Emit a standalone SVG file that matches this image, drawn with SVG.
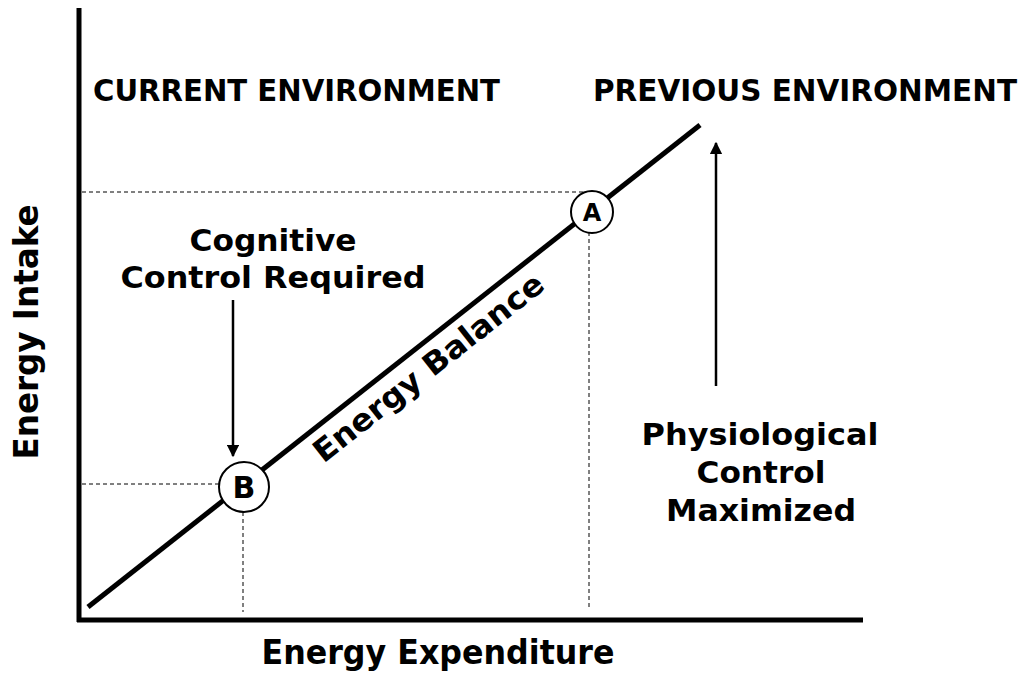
<svg xmlns="http://www.w3.org/2000/svg" width="1029" height="675" viewBox="0 0 1029 675">
<defs>
<style>
.t{font-family:"DejaVu Sans",Verdana,sans-serif;font-weight:bold;fill:#000}
.dash{stroke:#000;stroke-width:1;stroke-dasharray:4,3;fill:none}
.ax{stroke:#000;stroke-width:5;fill:none}
.node{fill:#fff;stroke:#000;stroke-width:2}
</style>
<marker id="ah" viewBox="0 0 10 10" refX="9" refY="5" markerWidth="5" markerHeight="5" orient="auto" markerUnits="strokeWidth">
<path d="M0,0 L10,5 L0,10 z" fill="#000"/>
</marker>
</defs>
<rect width="1029" height="675" fill="#fff"/>
<g id="axes">
<line class="ax" x1="79" y1="8" x2="79" y2="622"/>
<line class="ax" x1="77" y1="620" x2="863" y2="620"/>
</g>
<g id="connectors">
<line class="dash" x1="82" y1="192" x2="588" y2="192"/>
<line class="dash" x1="589" y1="232" x2="589" y2="608"/>
<line class="dash" x1="82" y1="484" x2="220" y2="484"/>
<line class="dash" x1="243" y1="512" x2="243" y2="612"/>
<line stroke="#000" stroke-width="5" x1="88" y1="607" x2="700" y2="125"/>
<line stroke="#000" stroke-width="2.5" x1="233" y1="300" x2="233" y2="456" marker-end="url(#ah)"/>
<line stroke="#000" stroke-width="2.5" x1="716" y1="386" x2="716" y2="143" marker-end="url(#ah)"/>
</g>
<g id="nodeA">
<circle class="node" cx="592" cy="212" r="21"/>
<text class="t" x="592" y="221" font-size="24" text-anchor="middle">A</text>
</g>
<g id="nodeB">
<circle class="node" cx="244" cy="487" r="25"/>
<text class="t" x="244" y="498" font-size="30" text-anchor="middle">B</text>
</g>
<g id="labels">
<text class="t" x="93" y="101" font-size="30" textLength="407" lengthAdjust="spacingAndGlyphs">CURRENT ENVIRONMENT</text>
<text class="t" x="593" y="101" font-size="30" textLength="424" lengthAdjust="spacingAndGlyphs">PREVIOUS ENVIRONMENT</text>
<text class="t" x="273" y="251" font-size="31" text-anchor="middle" textLength="167" lengthAdjust="spacingAndGlyphs">Cognitive</text>
<text class="t" x="273" y="288" font-size="31" text-anchor="middle" textLength="305" lengthAdjust="spacingAndGlyphs">Control Required</text>
<text class="t" x="760" y="445" font-size="31" text-anchor="middle" textLength="237" lengthAdjust="spacingAndGlyphs">Physiological</text>
<text class="t" x="761" y="483" font-size="31" text-anchor="middle" textLength="129" lengthAdjust="spacingAndGlyphs">Control</text>
<text class="t" x="761" y="521" font-size="31" text-anchor="middle" textLength="190" lengthAdjust="spacingAndGlyphs">Maximized</text>
<text class="t" font-size="31" text-anchor="middle" textLength="284" lengthAdjust="spacingAndGlyphs" transform="translate(435,376) rotate(-38.2)">Energy Balance</text>
<text class="t" x="438" y="664" font-size="33" text-anchor="middle" textLength="353" lengthAdjust="spacingAndGlyphs">Energy Expenditure</text>
<text class="t" font-size="33" text-anchor="middle" textLength="255" lengthAdjust="spacingAndGlyphs" transform="translate(38,332) rotate(-90)">Energy Intake</text>
</g>
</svg>
